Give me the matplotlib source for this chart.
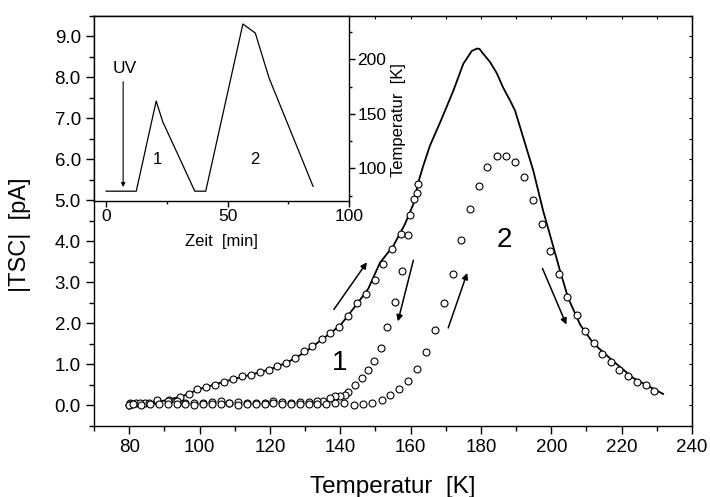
import numpy as np
import matplotlib.pyplot as plt
from matplotlib.ticker import MultipleLocator, FormatStrFormatter

plt.rcParams['font.family'] = ['Liberation Sans', 'DejaVu Sans']

# ---------------------------------------------------------------------
# Reference TSC curve (solid line), uninterrupted heating
T_ref = [80, 85, 90, 95, 100, 105, 110, 115, 120, 125, 130, 135, 140, 145, 148,
         151.3, 155.1, 158.4, 160.8, 162.2, 163.6, 165.5, 168.8, 172.2, 175,
         177.4, 178.9, 179.6, 180.4, 182.6, 184.5, 186.3, 188.3, 189.7, 192,
         194.9, 197.7, 199.6, 202.5, 204.8, 208.2, 211.9, 217.6, 223.3, 227, 231.8]
I_ref = [0.02, 0.05, 0.12, 0.22, 0.40, 0.53, 0.65, 0.76, 0.88, 1.05, 1.30, 1.62, 1.95, 2.50, 2.85,
         3.48, 3.89, 4.42, 4.91, 5.44, 5.84, 6.33, 6.98, 7.68, 8.33,
         8.64, 8.70, 8.69, 8.60, 8.37, 8.10, 7.75, 7.43, 7.19, 6.54,
         5.72, 4.74, 4.17, 3.28, 2.62, 1.97, 1.52, 1.08, 0.67, 0.50, 0.28]

# run 1: heating up to ~162 K
T_h1 = [80, 80.3, 82, 84.5, 87.9, 91.2, 94.5, 97.1, 99.2, 101.9, 104.4, 107, 109.6, 112.2,
        114.7, 117.2, 119.7, 122.1, 124.7, 127.2, 129.6, 132.1, 134.7, 137.1, 139.7,
        142.3, 144.9, 147.4, 149.8, 152.3, 154.8, 157.3, 159.4, 159.9, 161, 161.8, 162]
I_h1 = [0.02, 0.06, 0.05, 0.06, 0.11, 0.14, 0.20, 0.28, 0.41, 0.46, 0.51, 0.58, 0.65, 0.71,
        0.75, 0.81, 0.86, 0.95, 1.04, 1.16, 1.32, 1.44, 1.61, 1.77, 1.91,
        2.18, 2.50, 2.72, 3.07, 3.44, 3.81, 4.17, 4.16, 4.65, 5.03, 5.17, 5.40]

# run 1: cooling back to 80 K
T_c1 = [157.5, 155.6, 153.4, 151.6, 149.6, 148, 146.1, 144.2, 142.3, 141.3, 140, 138.5,
        137, 135.2, 133.3, 131, 128.5, 126, 123.5, 121, 118.5, 116, 113.5, 111, 108.5,
        106, 103.5, 101, 98.5, 96, 93.5, 91, 88, 85.5, 83, 80.5]
I_c1 = [3.28, 2.53, 1.91, 1.40, 1.08, 0.87, 0.67, 0.49, 0.34, 0.26, 0.22, 0.22,
        0.19, 0.12, 0.10, 0.08, 0.08, 0.07, 0.08, 0.10, 0.07, 0.06, 0.06, 0.08, 0.07,
        0.10, 0.08, 0.06, 0.05, 0.07, 0.12, 0.10, 0.13, 0.05, 0.06, 0.04]

# run 2: heating up to ~230 K
T_h2 = [80, 81, 83.5, 86, 88.5, 91, 93.5, 96, 98.5, 101, 103.5, 106, 108.5, 111, 113.5,
        116, 118.5, 121, 123.5, 126, 128.5, 131, 133.5, 136, 138.5, 141, 143.9, 146.6,
        149.1, 151.8, 154.2, 156.6, 159.3, 161.7, 164.4, 167, 169.5, 172, 174.3, 176.9,
        179.4, 181.8, 184.5, 187, 189.7, 192.2, 194.7, 197.3, 199.6, 202.2, 204.6, 207.2,
        209.6, 212.1, 214.5, 216.9, 219.3, 221.9, 224.3, 226.8, 229.3]
I_h2 = [0.02, 0.03, 0.02, 0.04, 0.03, 0.03, 0.04, 0.03, 0.02, 0.04, 0.03, 0.03, 0.05, 0.02, 0.03,
        0.04, 0.03, 0.05, 0.04, 0.03, 0.04, 0.04, 0.03, 0.04, 0.05, 0.05, 0.02, 0.04,
        0.07, 0.13, 0.25, 0.41, 0.60, 0.89, 1.30, 1.85, 2.50, 3.21, 4.04, 4.78,
        5.35, 5.82, 6.07, 6.08, 5.94, 5.57, 5.02, 4.42, 3.77, 3.21, 2.65, 2.20,
        1.81, 1.52, 1.25, 1.05, 0.87, 0.73, 0.56, 0.50, 0.36]

# arrows (start, end) in data coords
arrows = [((138.2, 2.34), (147.6, 3.49)),
          ((160.8, 3.54), (156.4, 2.05)),
          ((170.7, 1.89), (176.1, 3.23)),
          ((197.5, 3.34), (204.3, 1.97))]

# inset: temperature programme
t_min = [0, 12.4, 20.6, 23.3, 36.5, 41, 56.3, 61.4, 67.1, 85.2]
T_prog = [79, 79, 161.7, 142.7, 79, 79, 232.4, 224.1, 182.7, 83.4]

# ---------------------------------------------------------------------
fig = plt.figure(figsize=(7.1, 4.97), dpi=100)
ax = fig.add_axes([0.1324, 0.1429, 0.8422, 0.8255])

ax.plot(T_ref, I_ref, color="black", lw=1.3, zorder=2)
for T, I in [(T_h1, I_h1), (T_c1, I_c1), (T_h2, I_h2)]:
    ax.plot(T, I, "o", ms=5, mfc="white", mec="black", mew=0.8, zorder=3)

for (x0, y0), (x1, y1) in arrows:
    ax.annotate("", xy=(x1, y1), xytext=(x0, y0),
                arrowprops=dict(arrowstyle="-|>", color="black", lw=1.1,
                                mutation_scale=9, shrinkA=0, shrinkB=0))

ax.text(139.7, 1.03, "1", fontsize=20, ha="center", va="center")
ax.text(186.6, 4.03, "2", fontsize=20, ha="center", va="center")

ax.set_xlim(70, 240)
ax.set_ylim(-0.5, 9.5)
ax.xaxis.set_major_locator(MultipleLocator(20))
ax.xaxis.set_minor_locator(MultipleLocator(10))
ax.yaxis.set_major_locator(MultipleLocator(1))
ax.yaxis.set_minor_locator(MultipleLocator(0.5))
ax.yaxis.set_major_formatter(FormatStrFormatter("%.1f"))
ax.tick_params(which="major", direction="out", length=6, width=1, labelsize=13.5)
ax.tick_params(which="minor", direction="out", length=3.5, width=1)

ax.set_xlabel("Temperatur  [K]", fontsize=17.5)
ax.set_ylabel("|TSC|  [pA]", fontsize=17)
ax.xaxis.set_label_coords(0.5, -0.122)
ax.yaxis.set_label_coords(-0.105, 0.466)

# small inward ticks on top / right
sec_x = ax.secondary_xaxis("top")
sec_x.xaxis.set_major_locator(MultipleLocator(10))
sec_x.tick_params(direction="in", length=2.5, labeltop=False)
sec_y = ax.secondary_yaxis("right")
sec_y.yaxis.set_major_locator(MultipleLocator(0.5))
sec_y.tick_params(direction="in", length=2.5, labelright=False)

for s in ax.spines.values():
    s.set_linewidth(1)

# ---------------------------------------------------------------------
# Inset
axi = fig.add_axes([0.1324, 0.5956, 0.3592, 0.3728], zorder=5)
axi.set_facecolor("white")
axi.plot(t_min, T_prog, color="black", lw=0.9)
axi.annotate("", xy=(7.0, 82.8), xytext=(7.0, 179.5),
             arrowprops=dict(arrowstyle="-|>", color="black", lw=0.8,
                             mutation_scale=6, shrinkA=0, shrinkB=0))
axi.text(7.7, 191.9, "UV", fontsize=12.5, ha="center", va="center")
axi.text(21.2, 108, "1", fontsize=12, ha="center", va="center")
axi.text(61.3, 108, "2", fontsize=12, ha="center", va="center")

axi.set_xlim(-5, 100)
axi.set_ylim(70, 240)
axi.xaxis.set_major_locator(MultipleLocator(50))
axi.xaxis.set_minor_locator(MultipleLocator(25))
axi.yaxis.set_major_locator(MultipleLocator(50))
axi.yaxis.set_minor_locator(MultipleLocator(25))
axi.yaxis.tick_right()
axi.yaxis.set_label_position("right")
axi.tick_params(which="major", direction="out", length=4, width=1, labelsize=12.5, pad=2)
axi.tick_params(which="minor", direction="out", length=2.5, width=1)
axi.set_xlabel("Zeit  [min]", fontsize=12)
axi.set_ylabel("Temperatur  [K]", fontsize=12)
axi.xaxis.set_label_coords(0.5, -0.18)
axi.yaxis.set_label_coords(1.165, 0.437)
for s in axi.spines.values():
    s.set_linewidth(1)

plt.savefig("out.png", dpi=100)
